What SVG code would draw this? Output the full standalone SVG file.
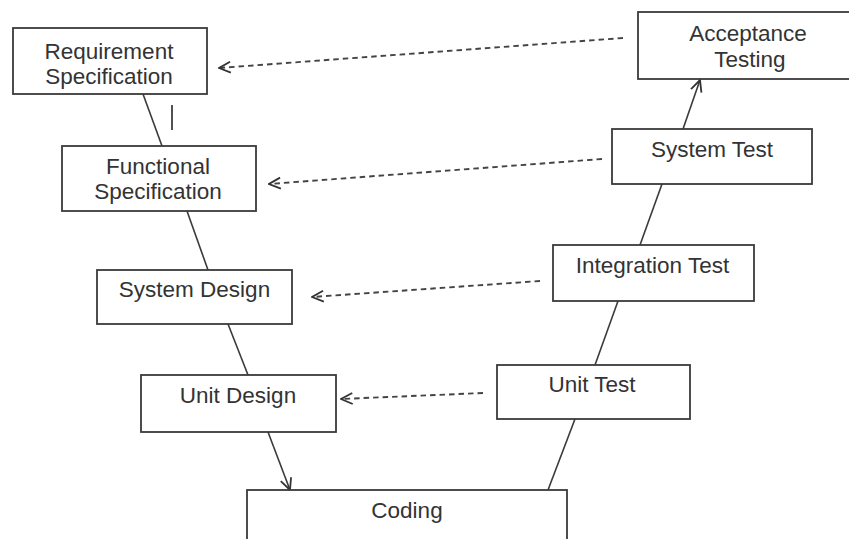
<svg xmlns="http://www.w3.org/2000/svg" width="849" height="539" viewBox="0 0 849 539">
  <defs>
    <style>
      .box { fill: #ffffff; stroke: #3a3a3a; stroke-width: 1.8; }
      .lbl { font-family: "Liberation Sans", Arial, sans-serif; font-size: 22.5px; fill: #333333; text-anchor: middle; }
      .link { fill: none; stroke: #3a3a3a; stroke-width: 1.6; }
      .trace { fill: none; stroke: #444444; stroke-width: 1.9; stroke-dasharray: 5.5 4; }
    </style>
    <marker id="open" viewBox="0 0 14 14" refX="13" refY="7" markerWidth="14" markerHeight="14" markerUnits="userSpaceOnUse" orient="auto">
      <path d="M1.5,1.5 L13,7 L1.5,12.5" fill="none" stroke="#333333" stroke-width="1.8"/>
    </marker>
  </defs>
  <rect width="849" height="539" fill="#ffffff"/>

  <!-- connectors -->
  <g id="connectors">
    <!-- left leg of the V -->
    <line class="link" x1="143" y1="94" x2="162" y2="146"/>
    <line x1="172" y1="105" x2="172" y2="130" stroke="#333333" stroke-width="1.7"/>
    <line class="link" x1="187" y1="211" x2="208" y2="270"/>
    <line class="link" x1="228" y1="324" x2="248" y2="375"/>
    <line class="link" x1="268" y1="432" x2="290" y2="490" marker-end="url(#open)"/>
    <!-- right leg of the V -->
    <line class="link" x1="548" y1="490" x2="575" y2="419"/>
    <line class="link" x1="595" y1="365" x2="618" y2="301"/>
    <line class="link" x1="640" y1="245" x2="662" y2="184"/>
    <line class="link" x1="683" y1="129" x2="700" y2="80" marker-end="url(#open)"/>
    <!-- verification links -->
    <line class="trace" x1="623" y1="38" x2="219" y2="68" marker-end="url(#open)"/>
    <line class="trace" x1="602" y1="159" x2="269" y2="184" marker-end="url(#open)"/>
    <line class="trace" x1="540" y1="281" x2="312" y2="297" marker-end="url(#open)"/>
    <line class="trace" x1="483" y1="393" x2="341" y2="399" marker-end="url(#open)"/>
  </g>

  <g id="requirement-specification">
    <rect class="box" x="13" y="28" width="194" height="66"/>
    <text class="lbl" x="109" y="59">Requirement</text>
    <text class="lbl" x="109" y="84">Specification</text>
  </g>

  <g id="functional-specification">
    <rect class="box" x="62" y="146" width="194" height="65"/>
    <text class="lbl" x="158" y="174">Functional</text>
    <text class="lbl" x="158" y="199">Specification</text>
  </g>

  <g id="system-design">
    <rect class="box" x="97" y="270" width="195" height="54"/>
    <text class="lbl" x="194.5" y="297">System Design</text>
  </g>

  <g id="unit-design">
    <rect class="box" x="141" y="375" width="195" height="57"/>
    <text class="lbl" x="238" y="403">Unit Design</text>
  </g>

  <g id="coding">
    <rect class="box" x="247" y="490" width="320" height="60"/>
    <text class="lbl" x="407" y="518">Coding</text>
  </g>

  <g id="unit-test">
    <rect class="box" x="497" y="365" width="193" height="54"/>
    <text class="lbl" x="592" y="392">Unit Test</text>
  </g>

  <g id="integration-test">
    <rect class="box" x="553" y="245" width="201" height="56"/>
    <text class="lbl" x="652.5" y="273">Integration Test</text>
  </g>

  <g id="system-test">
    <rect class="box" x="612" y="129" width="200" height="55"/>
    <text class="lbl" x="712" y="157">System Test</text>
  </g>

  <g id="acceptance-testing">
    <rect class="box" x="638" y="12" width="220" height="67"/>
    <text class="lbl" x="748" y="41">Acceptance</text>
    <text class="lbl" x="750" y="67">Testing</text>
  </g>
</svg>
